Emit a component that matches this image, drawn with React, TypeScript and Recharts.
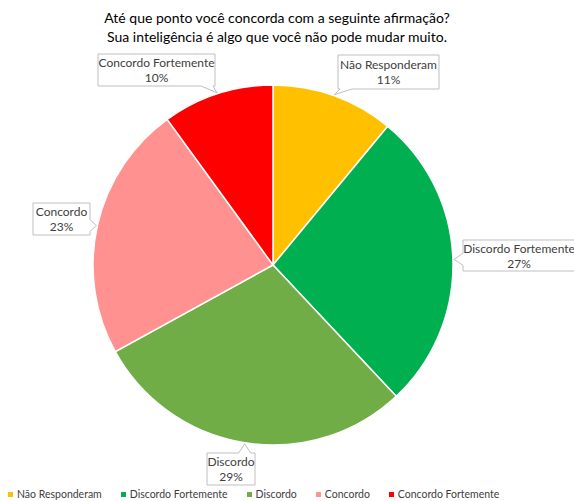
import React from "react";
import { PieChart, Pie, Cell, Legend } from "recharts";

const TITLE_LINES = [
  "Até que ponto você concorda com a seguinte afirmação?",
  "Sua inteligência é algo que você não pode mudar muito.",
];
const CATEGORIES = [
  "Não Responderam",
  "Discordo Fortemente",
  "Discordo",
  "Concordo",
  "Concordo Fortemente",
];
const VALUES = [11, 27, 29, 23, 10];
const COLORS = ["#FFC000", "#00B050", "#70AD47", "#FF9191", "#FF0000"];

const data = CATEGORIES.map((name, i) => ({ name, value: VALUES[i] }));

// layout of label boxes (x0, y0, x1, y1)
const LABEL_BOX: Record<string, [number, number, number, number]> = {
  "Não Responderam": [338, 55, 439, 89],
  "Discordo Fortemente": [463, 240, 580, 271],
  Discordo: [207, 453, 255, 485],
  Concordo: [33, 203, 90, 235],
  "Concordo Fortemente": [98, 54, 215, 86],
};

const FONT = "Lato, 'Open Sans', sans-serif";
const RADIAN = Math.PI / 180;

function clamp(v: number, a: number, b: number) {
  return Math.max(a, Math.min(b, v));
}

function calloutPath(
  x0: number,
  y0: number,
  x1: number,
  y1: number,
  tx: number,
  ty: number
) {
  const hw = 6;
  if (ty > y1) {
    const c = clamp(tx, x0 + hw + 2, x1 - hw - 2);
    return `M${x0},${y0}H${x1}V${y1}H${c + hw}L${tx},${ty}L${c - hw},${y1}H${x0}Z`;
  }
  if (ty < y0) {
    const c = clamp(tx, x0 + hw + 2, x1 - hw - 2);
    return `M${x0},${y0}H${c - hw}L${tx},${ty}L${c + hw},${y0}H${x1}V${y1}H${x0}Z`;
  }
  const c = clamp(ty, y0 + hw + 2, y1 - hw - 2);
  if (tx < x0) {
    return `M${x0},${y0}H${x1}V${y1}H${x0}V${c + hw}L${tx},${ty}L${x0},${c - hw}Z`;
  }
  return `M${x0},${y0}H${x1}V${c - hw}L${tx},${ty}L${x1},${c + hw}V${y1}H${x0}Z`;
}

const renderLabel = (props: any) => {
  const { cx, cy, midAngle, outerRadius, name, percent } = props;
  const box = LABEL_BOX[name];
  if (!box) return null;
  const [x0, y0, x1, y1] = box;
  const tx = cx + (outerRadius + 1) * Math.cos(-midAngle * RADIAN);
  const ty = cy + (outerRadius + 1) * Math.sin(-midAngle * RADIAN);
  const mx = (x0 + Math.min(x1, 575)) / 2;
  const my = (y0 + y1) / 2;
  return (
    <g>
      <path
        d={calloutPath(x0, y0, x1, y1, tx, ty)}
        fill="#FFFFFF"
        stroke="#BFBFBF"
        strokeWidth={1}
      />
      <text
        x={mx}
        y={my - 3}
        textAnchor="middle"
        fontFamily={FONT}
        fontSize={12}
        fill="#404040"
      >
        {name}
      </text>
      <text
        x={mx}
        y={my + 12}
        textAnchor="middle"
        fontFamily={FONT}
        fontSize={12}
        fill="#404040"
      >
        {`${Math.round(percent * 100)}%`}
      </text>
    </g>
  );
};

const renderLegend = () => (
  <div
    style={{
      display: "flex",
      flexDirection: "row",
      alignItems: "center",
      gap: 19,
      fontFamily: FONT,
      fontSize: 10.5,
      color: "#404040",
      whiteSpace: "nowrap",
    }}
  >
    {CATEGORIES.map((c, i) => (
      <div key={c} style={{ display: "flex", alignItems: "center" }}>
        <span
          style={{
            display: "inline-block",
            width: 5,
            height: 5,
            background: COLORS[i],
            marginRight: 4,
          }}
        />
        <span>{c}</span>
      </div>
    ))}
  </div>
);

export default function App() {
  return (
    <div
      style={{
        position: "absolute",
        left: 0,
        top: 0,
        width: 574,
        height: 501,
        background: "#FFFFFF",
        overflow: "hidden",
      }}
    >
      <PieChart width={574} height={501}>
        <text
          x={277}
          y={23}
          textAnchor="middle"
          fontFamily={FONT}
          fontSize={14}
          fill="#000000"
        >
          {TITLE_LINES[0]}
        </text>
        <text
          x={277}
          y={42}
          textAnchor="middle"
          fontFamily={FONT}
          fontSize={14}
          fill="#000000"
        >
          {TITLE_LINES[1]}
        </text>
        <Pie
          data={data}
          dataKey="value"
          nameKey="name"
          cx={268}
          cy={260}
          outerRadius={180}
          startAngle={90}
          endAngle={-270}
          stroke="#FFFFFF"
          strokeWidth={1.5}
          label={renderLabel}
          labelLine={false}
          isAnimationActive={false}
        >
          {data.map((d, i) => (
            <Cell key={d.name} fill={COLORS[i]} />
          ))}
        </Pie>
        <Legend
          content={renderLegend}
          verticalAlign="bottom"
          wrapperStyle={{ position: "absolute", left: 8, top: 488, width: 566, height: 16 }}
        />
      </PieChart>
    </div>
  );
}
